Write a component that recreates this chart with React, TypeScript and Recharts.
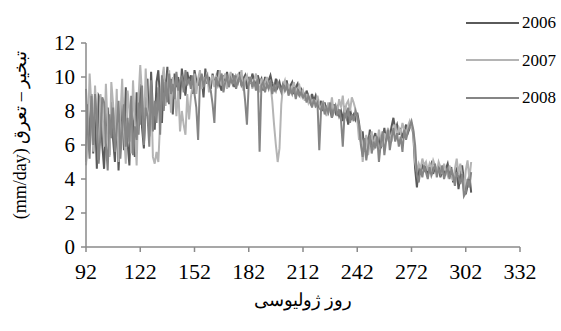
import React from "react";
import { LineChart, Line, XAxis, YAxis, Legend } from "recharts";

const START_DAY = 92;
const X_TICKS = [92, 122, 152, 182, 212, 242, 272, 302, 332];
const Y_TICKS = [0, 2, 4, 6, 8, 10, 12];
const SERIES_NAMES = ["2006", "2007", "2008"];
const SERIES_COLORS = ["#5a5a5a", "#b4b4b4", "#858585"];

const et2006 = [
  5.0, 8.4, 6.2, 9.0, 5.5, 7.8, 4.6, 8.9, 8.7, 6.0,
  4.6, 7.1, 8.2, 5.4, 8.6, 6.3, 5.0, 7.9, 4.5, 6.8,
  8.8, 5.7, 9.4, 6.1, 4.8, 8.2, 7.4, 5.3, 9.1, 6.6,
  9.6, 7.0, 5.8, 8.5, 9.9, 6.5, 10.3, 8.0, 6.9, 9.7,
  10.4, 8.6, 7.3, 10.1, 9.2, 10.6, 8.4, 9.9, 7.8, 10.2,
  9.4, 10.0, 8.7, 10.5, 9.6, 8.9, 10.3, 9.7, 10.1, 9.0,
  10.4, 9.8, 9.5, 10.2, 9.9, 8.8, 10.5, 9.6, 10.0, 9.3,
  10.2, 9.7, 9.9, 10.4, 9.5, 9.2, 10.1, 9.8, 10.3, 9.6,
  9.9, 10.2, 9.4, 10.0, 9.7, 10.3, 9.5, 9.9, 10.1, 9.3,
  10.0, 9.6, 10.2, 9.8, 9.4, 10.1, 9.7, 9.9, 9.2, 10.0,
  9.5, 9.8, 10.1, 9.6, 9.3, 9.9, 9.4, 9.7, 9.2, 9.6,
  9.3, 9.8, 9.1, 9.5, 9.7, 9.0, 9.4, 9.6, 8.9, 9.3,
  9.1, 8.7, 9.2, 8.8, 8.5, 9.0, 8.6, 8.9, 8.4, 8.2,
  8.6, 8.0, 8.5, 7.8, 8.3, 8.1, 7.6, 8.4, 7.9, 8.2,
  7.7, 8.0, 7.4, 8.3, 7.9, 7.2, 8.1, 7.6, 7.8, 7.5,
  7.9, 7.3, 6.2, 6.8, 5.6, 6.5, 6.1, 6.9, 5.9, 6.4,
  6.7, 6.0, 6.6, 5.8, 6.3, 7.0, 6.2, 6.8, 6.5, 7.1,
  7.6, 6.9, 7.2, 6.6, 7.0, 6.4, 6.8, 7.2, 6.7, 7.0,
  7.3, 6.6, 4.6, 3.5, 4.8, 4.3, 4.9, 4.5, 4.7, 4.2,
  4.6, 4.9, 4.3, 4.7, 4.4, 4.8, 4.1, 4.5, 4.2, 4.6,
  4.9, 4.3, 4.7, 3.8, 4.4, 4.6, 3.4, 4.2, 4.8, 3.9,
  3.1, 3.6, 4.3, 3.2,
];

const et2007 = [
  4.8, 6.5, 10.2, 8.3, 5.6, 9.5, 7.2, 5.1, 9.0, 8.0,
  5.9, 9.6, 7.0, 5.3, 9.7, 8.4, 6.2, 9.3, 5.0, 7.6,
  9.9, 6.8, 4.9, 9.2, 8.1, 5.5, 9.8, 7.3, 4.8, 8.7,
  10.7, 9.0, 6.4, 10.5, 8.2, 7.1, 9.4, 5.3, 4.9, 5.6,
  5.0, 7.4, 9.8, 10.6, 8.3, 9.5, 10.4, 7.9, 10.0, 9.1,
  7.7, 9.4, 6.8, 8.0, 7.2, 6.6, 9.0, 7.5, 8.8, 9.6,
  10.2, 9.0, 9.9, 10.4, 9.3, 10.0, 9.6, 10.3, 9.1, 9.8,
  10.1, 9.4, 10.0, 9.7, 10.4, 9.5, 9.9, 10.2, 9.3, 9.8,
  10.3, 9.6, 10.0, 9.4, 10.2, 9.7, 10.4, 9.2, 9.9, 10.1,
  9.5, 10.0, 9.3, 9.8, 10.2, 9.6, 9.1, 9.9, 9.4, 9.7,
  10.0, 9.3, 9.6, 8.6, 7.2, 6.0, 5.0, 5.8, 8.4, 9.5,
  9.8, 9.2, 9.6, 9.0, 9.4, 9.7, 8.8, 9.3, 9.5, 8.9,
  9.2, 8.6, 9.0, 8.5, 8.8, 8.3, 8.7, 8.2, 8.9, 8.4,
  8.0, 8.6, 8.2, 7.7, 8.5, 8.1, 8.8, 7.9, 8.3, 8.0,
  8.7, 8.2, 8.9, 7.8, 8.4, 8.6, 8.0, 8.8, 8.5, 8.1,
  7.5, 6.3, 6.9, 5.0, 6.0, 6.6, 5.4, 6.2, 6.8, 5.7,
  6.5, 6.1, 6.9, 6.3, 5.9, 6.7, 6.4, 7.0, 6.6, 6.2,
  6.8, 7.2, 6.5, 7.0, 6.7, 7.3, 6.9, 6.6, 7.1, 7.4,
  7.0, 6.8, 5.0, 4.4, 4.9, 4.6, 5.2, 4.8, 5.0, 4.5,
  4.9, 4.6, 5.1, 4.8, 4.4, 5.0, 4.7, 4.3, 4.9, 4.5,
  4.2, 4.8, 4.4, 3.9, 4.6, 5.2, 4.3, 4.9, 4.1, 3.3,
  4.5, 5.1, 4.0, 5.0,
];

const et2008 = [
  9.3, 6.8, 5.2, 8.9, 6.0, 9.0, 7.4, 4.9, 6.6, 8.8,
  8.5, 6.1, 4.5, 7.8, 6.4, 8.2, 5.6, 7.0, 8.6, 5.2,
  6.9, 8.4, 5.9, 7.6, 6.2, 8.9, 5.4, 7.1, 6.3, 8.5,
  7.2, 9.5, 6.0, 8.2, 7.7, 5.9, 9.8, 6.8, 8.6, 7.3,
  9.4, 6.6, 10.1, 8.0, 9.7, 8.5, 10.2, 9.0, 9.6, 8.7,
  10.3, 9.2, 9.8, 10.0, 9.1, 10.4, 9.5, 9.9, 9.3, 10.1,
  9.0, 8.2, 6.3, 9.7, 10.2, 9.4, 9.9, 10.1, 9.6, 9.2,
  8.4, 7.3, 10.0, 9.5, 9.8, 10.2, 9.1, 9.7, 10.0, 9.4,
  9.9, 9.6, 10.1, 9.3, 9.8, 10.0, 9.5, 9.7, 8.6, 7.2,
  9.6, 10.0, 9.4, 9.8, 9.2, 9.9, 5.6, 9.5, 9.7, 9.1,
  9.6, 9.3, 9.8, 9.0, 9.5, 9.2, 9.7, 9.4, 9.1, 9.6,
  9.2, 9.5, 8.9, 9.3, 9.0, 9.4, 8.7, 9.2, 8.9, 9.1,
  8.8, 9.0, 8.5, 8.9, 8.6, 8.2, 8.7, 8.3, 8.5, 5.7,
  8.1, 8.4, 7.8, 8.2, 7.9, 8.5, 7.6, 8.0, 8.3, 7.7,
  8.1, 7.5, 5.9, 7.9, 7.6, 8.2, 7.3, 7.8, 7.4, 8.0,
  7.7, 7.2, 6.0, 5.3, 6.4, 5.1, 5.9, 6.6, 5.5, 6.2,
  5.8, 6.5, 5.0, 6.1, 6.8, 5.4, 6.3, 6.9, 5.7, 6.4,
  7.0, 6.2, 6.7, 5.9, 6.5, 5.6, 6.9, 6.3, 6.8, 7.1,
  7.4, 6.9, 6.0, 4.2, 3.8, 4.6, 4.1, 4.8, 4.4, 4.0,
  4.7, 4.2, 4.5, 4.9, 4.1, 4.6, 4.3, 4.8, 4.0, 4.4,
  4.6, 4.0, 4.5, 4.2, 3.6, 4.4, 4.1, 3.7, 4.3, 3.0,
  3.2, 4.0, 3.5, 4.4,
];

const Y_TITLE = "(mm/day) تبخیر – تعرق";
const X_TITLE = "روز ژولیوسی";

const data = et2006.map((v, i) => ({
  day: START_DAY + i,
  y2006: v,
  y2007: et2007[i],
  y2008: et2008[i],
}));

const FONT = "Liberation Serif, Times New Roman, serif";
const AXIS_COLOR = "#8a8a8a";

const XTick = (props: any) => {
  const { x, y, payload } = props;
  return (
    <text
      x={x}
      y={y + 25}
      textAnchor="middle"
      fontFamily={FONT}
      fontSize={22}
      fill="#000"
    >
      {payload.value}
    </text>
  );
};

const YTick = (props: any) => {
  const { x, y, payload } = props;
  return (
    <text
      x={x}
      y={y + 7}
      textAnchor="end"
      fontFamily={FONT}
      fontSize={21}
      fill="#000"
    >
      {payload.value}
    </text>
  );
};

const renderLegend = (props: any) => {
  const payload = props.payload || [];
  return (
    <div>
      {payload.map((p: any) => (
        <div
          key={p.value}
          style={{ display: "flex", alignItems: "center", height: 37.5 }}
        >
          <svg width={53} height={4} style={{ display: "block" }}>
            <line x1={0} y1={2} x2={53} y2={2} stroke={p.color} strokeWidth={2} />
          </svg>
          <span
            style={{
              marginLeft: 3,
              fontFamily: FONT,
              fontSize: 17,
              color: "#000",
              lineHeight: "17px",
            }}
          >
            {p.value}
          </span>
        </div>
      ))}
    </div>
  );
};

const YTitle = () => (
  <text
    x={20}
    y={135}
    transform="rotate(-90, 20, 135)"
    textAnchor="middle"
    dominantBaseline="central"
    fontFamily={FONT}
    fontSize={18}
    fill="#000"
  >
    {Y_TITLE}
  </text>
);

const XTitle = () => (
  <text
    x={303}
    y={300}
    textAnchor="middle"
    dominantBaseline="central"
    fontFamily={FONT}
    fontSize={18}
    fill="#000"
  >
    {X_TITLE}
  </text>
);

export default function App() {
  return (
    <div
      style={{
        position: "absolute",
        left: 0,
        top: 0,
        width: 561,
        height: 331,
        background: "#fff",
        fontFamily: FONT,
      }}
    >
      <LineChart
        width={561}
        height={331}
        data={data}
        margin={{ top: 43, right: 41, left: 0, bottom: 0 }}
      >
        <XAxis
          dataKey="day"
          type="number"
          domain={[92, 332]}
          ticks={X_TICKS}
          interval={0}
          height={84}
          axisLine={{ stroke: AXIS_COLOR, strokeWidth: 1.5 }}
          tickLine={{ stroke: AXIS_COLOR, strokeWidth: 1.5 }}
          tickSize={5}
          tickMargin={2}
          tick={<XTick />}
          label={{ content: () => <XTitle /> }}
        />
        <YAxis
          type="number"
          domain={[0, 12]}
          ticks={Y_TICKS}
          interval={0}
          width={86}
          axisLine={{ stroke: AXIS_COLOR, strokeWidth: 1.5 }}
          tickLine={{ stroke: AXIS_COLOR, strokeWidth: 1.5 }}
          tickSize={5}
          tickMargin={6}
          tick={<YTick />}
          label={{ content: () => <YTitle /> }}
        />
        <Legend
          layout="horizontal"
          align="center"
          verticalAlign="middle"
          content={renderLegend}
          wrapperStyle={{ position: "absolute", left: 466, top: 4, width: 95 }}
        />
        <Line
          type="linear"
          dataKey="y2006"
          name={SERIES_NAMES[0]}
          stroke={SERIES_COLORS[0]}
          strokeWidth={2}
          dot={false}
          isAnimationActive={false}
        />
        <Line
          type="linear"
          dataKey="y2007"
          name={SERIES_NAMES[1]}
          stroke={SERIES_COLORS[1]}
          strokeWidth={2}
          dot={false}
          isAnimationActive={false}
        />
        <Line
          type="linear"
          dataKey="y2008"
          name={SERIES_NAMES[2]}
          stroke={SERIES_COLORS[2]}
          strokeWidth={2}
          dot={false}
          isAnimationActive={false}
        />
      </LineChart>
    </div>
  );
}
